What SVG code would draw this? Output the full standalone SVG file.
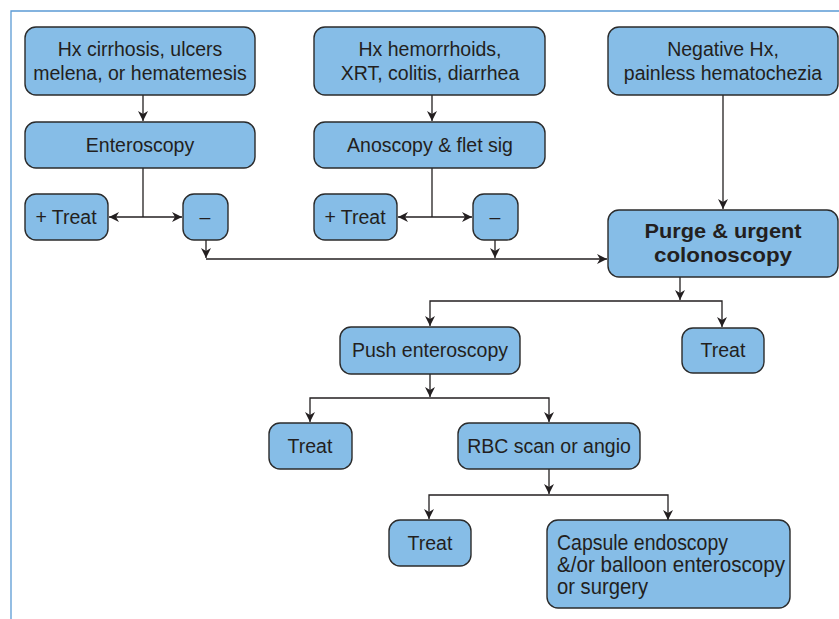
<svg xmlns="http://www.w3.org/2000/svg" width="839" height="619" viewBox="0 0 839 619">
<style>
.b{fill:#86BDE7;stroke:#2b2b2b;stroke-width:1.4}
.t{font-family:"Liberation Sans",Arial,sans-serif;font-size:19.5px;fill:#231f20;text-anchor:middle}
.bd{font-weight:bold;font-size:20px}
.n{font-family:"Liberation Sans",Arial,sans-serif;font-size:21.5px;fill:#231f20}
.c{fill:none;stroke:#231f20;stroke-width:1.3}
</style>
<defs>
<marker id="a" viewBox="0 0 10 10" refX="10" refY="5" markerWidth="10" markerHeight="10" markerUnits="userSpaceOnUse" orient="auto-start-reverse">
<path d="M0,0 L10,5 L0,10 L3,5 Z" fill="#231f20"/>
</marker>
</defs>
<path d="M11,619 V11 H839" fill="none" stroke="#5b9bd5" stroke-width="1.3"/>
<g id="connectors">
<path class="c" d="M143,95 V121" marker-end="url(#a)"/>
<path class="c" d="M143,168 V217"/>
<path class="c" d="M109,217 H182" marker-start="url(#a)" marker-end="url(#a)"/>
<path class="c" d="M206,240 V258" marker-end="url(#a)"/>
<path class="c" d="M432,95 V121" marker-end="url(#a)"/>
<path class="c" d="M432,168 V217"/>
<path class="c" d="M398,217 H472" marker-start="url(#a)" marker-end="url(#a)"/>
<path class="c" d="M495,240 V258" marker-end="url(#a)"/>
<path class="c" d="M206,259 H607" marker-end="url(#a)"/>
<path class="c" d="M723,95 V209" marker-end="url(#a)"/>
<path class="c" d="M680,277 V300" marker-end="url(#a)"/>
<path class="c" d="M430,326 V301 H722 V327" marker-start="url(#a)" marker-end="url(#a)"/>
<path class="c" d="M430,374 V397" marker-end="url(#a)"/>
<path class="c" d="M310,422 V398 H549 V422" marker-start="url(#a)" marker-end="url(#a)"/>
<path class="c" d="M549,469 V494" marker-end="url(#a)"/>
<path class="c" d="M429,519 V495 H668 V520" marker-start="url(#a)" marker-end="url(#a)"/>
</g>
<g id="n1"><rect class="b" x="25" y="27" width="230" height="68" rx="11"/><text class="t" x="140" y="56">Hx cirrhosis, ulcers</text><text class="t" x="140" y="80">melena, or hematemesis</text></g>
<g id="n2"><rect class="b" x="25" y="122" width="230" height="46" rx="11"/><text class="t" x="140" y="152">Enteroscopy</text></g>
<g id="n3"><rect class="b" x="25" y="194" width="83" height="46" rx="11"/><text class="t" x="66" y="224">+ Treat</text></g>
<g id="n4"><rect class="b" x="183" y="194" width="45" height="46" rx="11"/><text class="t" x="205" y="224">–</text></g>
<g id="n5"><rect class="b" x="314" y="27" width="231" height="68" rx="11"/><text class="t" x="430" y="56">Hx hemorrhoids,</text><text class="t" x="430" y="80">XRT, colitis, diarrhea</text></g>
<g id="n6"><rect class="b" x="314" y="122" width="231" height="46" rx="11"/><text class="t" x="430" y="152">Anoscopy &amp; flet sig</text></g>
<g id="n7"><rect class="b" x="314" y="194" width="83" height="46" rx="11"/><text class="t" x="355" y="224">+ Treat</text></g>
<g id="n8"><rect class="b" x="473" y="194" width="45" height="46" rx="11"/><text class="t" x="495" y="224">–</text></g>
<g id="n9"><rect class="b" x="608" y="27" width="230" height="68" rx="11"/><text class="t" x="723" y="56">Negative Hx,</text><text class="t" x="723" y="80">painless hematochezia</text></g>
<g id="n10"><rect class="b" x="608" y="210" width="230" height="67" rx="11"/><text class="t bd" x="723" y="238" textLength="157" lengthAdjust="spacingAndGlyphs">Purge &amp; urgent</text><text class="t bd" x="723" y="262" textLength="138" lengthAdjust="spacingAndGlyphs">colonoscopy</text></g>
<g id="n11"><rect class="b" x="340" y="327" width="180" height="47" rx="11"/><text class="t" x="430" y="357">Push enteroscopy</text></g>
<g id="n12"><rect class="b" x="682" y="328" width="82" height="45" rx="11"/><text class="t" x="723" y="357">Treat</text></g>
<g id="n13"><rect class="b" x="269" y="423" width="83" height="46" rx="11"/><text class="t" x="310" y="453">Treat</text></g>
<g id="n14"><rect class="b" x="458" y="423" width="182" height="46" rx="11"/><text class="t" x="549" y="453">RBC scan or angio</text></g>
<g id="n15"><rect class="b" x="389" y="520" width="82" height="46" rx="11"/><text class="t" x="430" y="550">Treat</text></g>
<g id="n16"><rect class="b" x="547" y="520" width="243" height="88" rx="11"/><text class="n" x="557" y="550" textLength="171" lengthAdjust="spacingAndGlyphs">Capsule endoscopy</text><text class="n" x="557" y="572" textLength="228" lengthAdjust="spacingAndGlyphs">&amp;/or balloon enteroscopy</text><text class="n" x="557" y="594" textLength="91" lengthAdjust="spacingAndGlyphs">or surgery</text></g>
</svg>
